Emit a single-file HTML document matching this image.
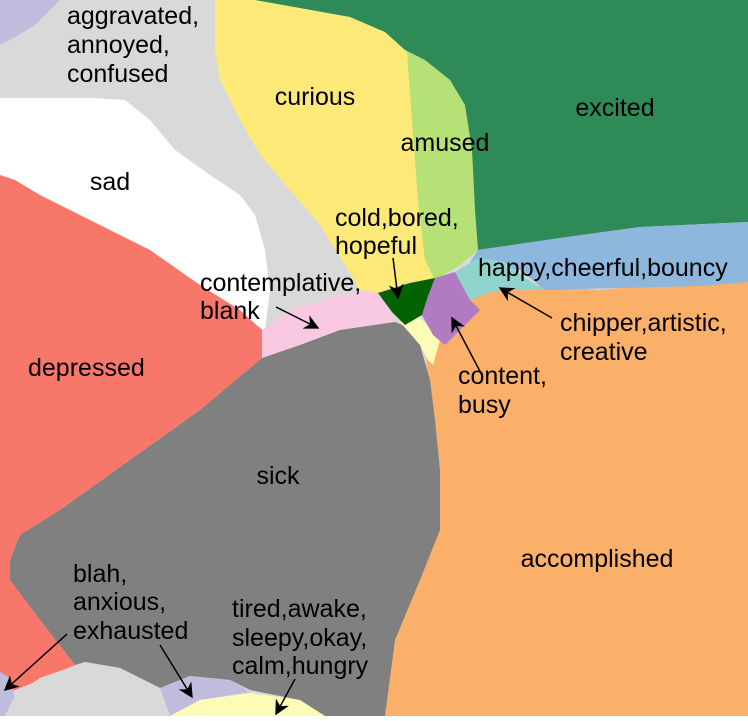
<!DOCTYPE html>
<html><head><meta charset="utf-8"><style>
html,body{margin:0;padding:0;background:#fff}
svg text{font-family:"Liberation Sans",Arial,sans-serif;font-size:25px;fill:#000}
</style></head><body>
<svg width="748" height="716" viewBox="0 0 748 716">
<defs><marker id="ah" markerWidth="10" markerHeight="10" refX="9" refY="5" orient="auto"><path d="M0,0 L10,5 L0,10 L3,5 z" fill="#000"/></marker></defs>
<rect width="748" height="716" fill="#d9d9d9"/>
<polygon fill="#bfbcde" points="0,0 60,0 35,25 10,40 0,45"/>
<polygon fill="#ffffff" points="0,98 95,98 125,100 150,120 175,150 210,175 240,195 255,215 265,250 270,290 265,330 250,322 220,300 190,280 150,255 100,228 50,200 0,175"/>
<polygon fill="#f8776b" points="0,175 15,180 40,195 70,210 100,225 150,250 200,285 240,310 262,330 262,358 200,410 130,460 60,510 20,535 10,560 10,580 40,620 75,665 40,680 15,690 0,695"/>
<polygon fill="#f9c9e1" points="262,330 290,310 330,298 360,292 385,292 395,322 340,330 300,345 262,358"/>
<polygon fill="#fbb06a" points="455,300 490,290 540,286 600,290 660,284 700,284 748,280 748,716 380,716 390,650 420,580 440,530 440,470 435,420 428,380 425,345 440,335 470,315"/>
<polygon fill="#808080" points="262,358 300,345 340,330 395,322 410,328 420,345 430,380 435,420 440,470 440,530 420,580 395,640 385,716 320,716 300,700 250,690 230,680 190,676 160,688 120,668 85,662 75,665 40,620 10,580 10,560 20,535 60,510 130,460 200,410"/>
<polygon fill="#fdfcb6" points="400,322 418,315 440,340 433,365 428,360 420,345"/>
<polygon fill="#fde977" points="215,0 255,0 300,8 350,17 385,32 407,52 412,120 418,200 425,260 435,280 410,282 378,293 360,290 345,265 320,225 290,190 260,155 240,120 220,80 215,50"/>
<polygon fill="#b5e177" points="405,50 425,60 450,80 465,105 472,150 475,210 478,250 460,265 435,280 425,260 418,200 412,120 407,52"/>
<polygon fill="#2e8a57" points="255,0 748,0 748,222 640,227 560,238 478,250 475,210 472,150 465,105 450,80 425,60 405,50 385,32 350,17 300,8"/>
<polygon fill="#8eb7dd" points="478,250 560,238 640,227 748,222 748,282 700,286 620,288 545,290 520,270 470,262"/>
<polygon fill="#8fd4cc" points="455,272 478,258 505,262 525,278 545,290 520,290 490,292 470,300"/>
<polygon fill="#b07bc0" points="435,278 455,272 470,300 480,310 465,325 445,345 433,335 422,315 428,296"/>
<polygon fill="#036201" points="378,293 410,283 435,278 428,296 422,315 405,325 392,312"/>
<polygon fill="#bfbcde" points="0,672 10,678 15,700 5,716 0,716"/>
<polygon fill="#d9d9d9" points="5,716 15,695 40,678 85,662 120,668 160,688 170,716"/>
<polygon fill="#bfbcde" points="160,688 190,676 230,680 250,692 200,700 170,716"/>
<polygon fill="#fdfcb6" points="170,716 200,700 250,693 300,700 325,716"/>
<g>
<text x="67" y="24">aggravated,</text><text x="67" y="53">annoyed,</text><text x="67" y="82">confused</text>
<text x="315" y="105" text-anchor="middle">curious</text>
<text x="615" y="116" text-anchor="middle">excited</text>
<text x="445" y="151" text-anchor="middle">amused</text>
<text x="110" y="190" text-anchor="middle">sad</text>
<text x="335" y="226">cold,bored,</text><text x="335" y="254">hopeful</text>
<text x="200" y="291">contemplative,</text><text x="200" y="319">blank</text>
<text x="478" y="276">happy,cheerful,bouncy</text>
<text x="560" y="331">chipper,artistic,</text><text x="560" y="360">creative</text>
<text x="28" y="376">depressed</text>
<text x="458" y="384">content,</text><text x="458" y="413">busy</text>
<text x="278" y="484" text-anchor="middle">sick</text>
<text x="597" y="567" text-anchor="middle">accomplished</text>
<text x="73" y="582">blah,</text><text x="73" y="610">anxious,</text><text x="73" y="639">exhausted</text>
<text x="232" y="617">tired,awake,</text><text x="232" y="646">sleepy,okay,</text><text x="232" y="674">calm,hungry</text>
</g>
<g stroke="#000" stroke-width="1.5" marker-end="url(#ah)">
<line x1="393" y1="258" x2="398" y2="298"/>
<line x1="276" y1="307" x2="318" y2="328"/>
<line x1="552" y1="318" x2="500" y2="288"/>
<line x1="483" y1="377" x2="452" y2="318"/>
<line x1="67" y1="634" x2="5" y2="690"/>
<line x1="160" y1="645" x2="192" y2="697"/>
<line x1="295" y1="679" x2="276" y2="714"/>
</g>
</svg>
</body></html>
